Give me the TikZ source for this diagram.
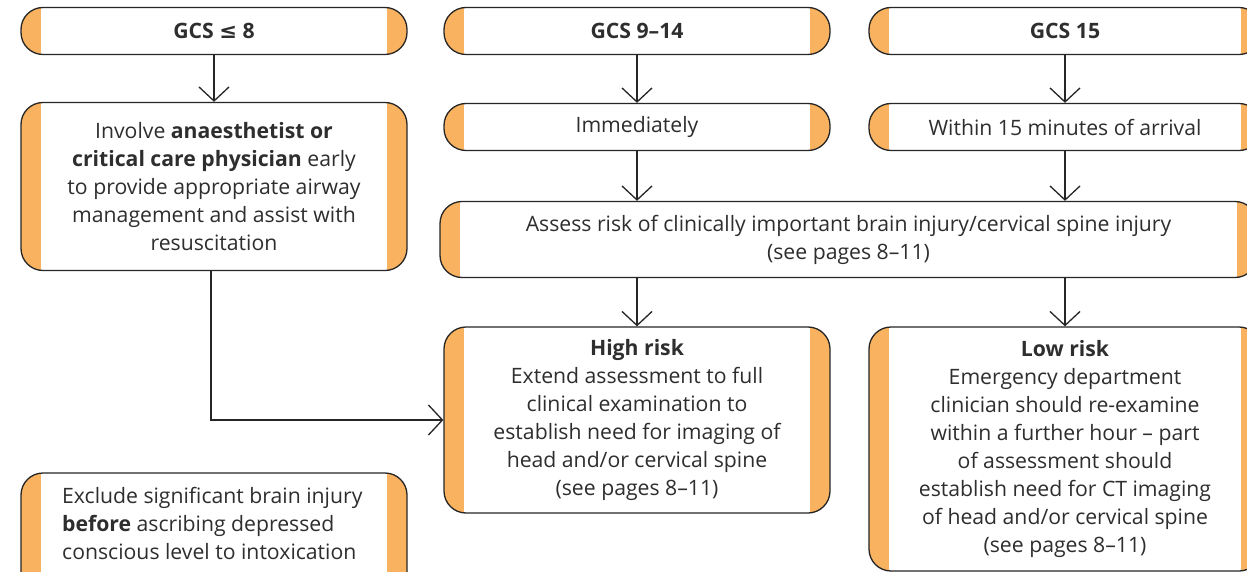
\documentclass[tikz,border=0pt]{standalone}
\usepackage{fontspec}
\setmainfont{Open Sans}
\newfontfamily\symf{DejaVu Sans}
\usetikzlibrary{arrows.meta}
\definecolor{orng}{HTML}{F9B25F}
\definecolor{txt}{HTML}{2E2E2E}
\definecolor{edge}{HTML}{262626}
\begin{document}
\begin{tikzpicture}[x=1pt,y=-1pt,
  fnt/.style={font=\fontsize{21.2}{28}\selectfont},
  box/.style={draw=edge, line width=1.3pt, fill=white, rounded corners=22pt,
    inner sep=0pt, align=center, text=txt, fnt,
    path picture={
      \fill[orng, sharp corners] (path picture bounding box.south west) rectangle ([xshift=20pt]path picture bounding box.north west);
      \fill[orng, sharp corners] (path picture bounding box.south east) rectangle ([xshift=-20pt]path picture bounding box.north east);}},
  arr/.style={draw=edge, line width=1.3pt, -{Straight Barb[length=14pt,width=30pt,line width=1.3pt]}},
  line/.style={draw=edge, line width=1.3pt}
  ]
\useasboundingbox[fill=white] (0,0) rectangle (1247,572);

% top row
\node[box, minimum width=386pt, minimum height=47pt] (g8) at (214,31) {\textbf{GCS {\symf\bfseries ≤} 8}};
\node[box, minimum width=386pt, minimum height=47pt] (g914) at (637,31) {\textbf{GCS 9–14}};
\node[box, minimum width=392pt, minimum height=47pt] (g15) at (1065,31) {\textbf{GCS 15}};

% second row
\node[box, minimum width=386pt, minimum height=168pt] (inv) at (214,186.5)
  {Involve \textbf{anaesthetist or}\\\textbf{critical care physician} early\\to provide appropriate airway\\management and assist with\\resuscitation};
\node[box, minimum width=386pt, minimum height=47pt] (imm) at (637,127) {Immediately};
\node[box, minimum width=392pt, minimum height=47pt] (w15) at (1065,127) {Within 15 minutes of arrival};

% assess
\node[box, minimum width=817pt, minimum height=76pt] (ass) at (848.5,239.5)
  {Assess risk of clinically important brain injury/cervical spine injury\\(see pages 8–11)};

% risk boxes
\node[box, minimum width=386pt, minimum height=186pt] (high) at (637,420)
  {\textbf{High risk}\\Extend assessment to full\\clinical examination to\\establish need for imaging of\\head and/or cervical spine\\(see pages 8–11)};
\node[box, minimum width=392pt, minimum height=244pt] (low) at (1065,449)
  {\textbf{Low risk}\\Emergency department\\clinician should re-examine\\within a further hour – part\\of assessment should\\establish need for CT imaging\\of head and/or cervical spine\\(see pages 8–11)};

% exclude box
\node[box, minimum width=386pt, minimum height=127pt] (excl) at (214,536.5) {};
\node[fnt, text=txt, anchor=west, align=left, inner sep=0pt] (excltext) at (62,523.5)
  {Exclude significant brain injury\\\textbf{before} ascribing depressed\\conscious level to intoxication};

% connectors
\draw[arr] (g8) -- (inv);
\draw[arr] (g914) -- (imm);
\draw[arr] (g15) -- (w15);
\draw[arr] (imm.south) -- (imm.south |- ass.north);
\draw[arr] (w15.south) -- (w15.south |- ass.north);
\draw[arr] (high.north |- ass.south) -- (high.north);
\draw[arr] (low.north |- ass.south) -- (low.north);
\draw[arr] ([xshift=-3pt]inv.south) |- (high.west);
\end{tikzpicture}
\end{document}
